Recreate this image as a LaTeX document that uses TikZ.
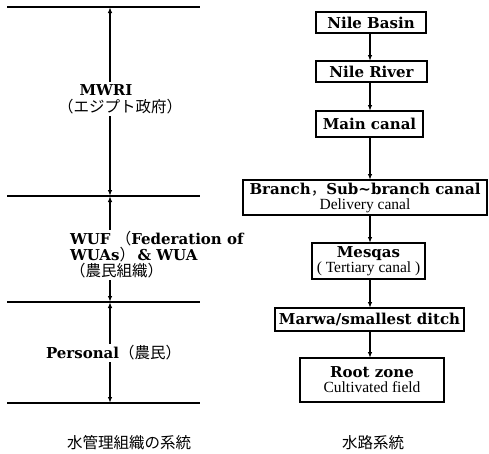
\documentclass[tikz,border=0pt]{standalone}
\usepackage{fontspec}
\newfontfamily\jp{Noto Sans CJK JP}
\newfontfamily\tms{Liberation Serif}
\newfontfamily\dvs{DejaVu Serif}
\usetikzlibrary{arrows.meta}
\newcommand\bigbf{\fontsize{15}{17}\selectfont\dvs\bfseries}
\newcommand\regtx{\fontsize{15.5}{17}\selectfont\tms\mdseries}
\newcommand\jpt{\fontsize{15.5}{17}\selectfont\jp\mdseries}
\begin{document}
\begin{tikzpicture}[x=1pt,y=-1pt,
  every node/.style={inner sep=0pt, outer sep=0pt},
  box/.style={draw, line width=1.3pt, align=center, font=\bigbf},
  arr/.style={line width=1.3pt, -{Latex[length=6pt,width=4.5pt]}},
  dar/.style={line width=1.3pt, {Latex[length=6pt,width=4.5pt]}-{Latex[length=6pt,width=4.5pt]}},
  lvl/.style={line width=1.4pt},
  lab/.style={fill=white, inner sep=2pt, font=\bigbf}]
\useasboundingbox (0,0) rectangle (489,453);
% left levels
\coordinate (h1a) at (7,7);   \coordinate (h1b) at (200,7);
\coordinate (h2a) at (7,196); \coordinate (h2b) at (200,196);
\coordinate (h3a) at (7,302); \coordinate (h3b) at (200,302);
\coordinate (h4a) at (7,403); \coordinate (h4b) at (200,403);
\draw[lvl] (h1a) -- (h1b);
\draw[lvl] (h2a) -- (h2b);
\draw[lvl] (h3a) -- (h3b);
\draw[lvl] (h4a) -- (h4b);
\coordinate (v1) at (110,7);
\coordinate (v2) at (110,196);
\coordinate (v3) at (110,302);
\coordinate (v4) at (110,403);
\draw[dar] (v1) -- (v2);
\draw[dar] (v2) -- (v3);
\draw[dar] (v3) -- (v4);
\node[lab, align=center] (mwri) at (120,99) {\hspace*{-28pt}MWRI\\[0pt]{\jpt （エジプト政府）}};
\node[lab, align=left, anchor=west] (wuf) at (68,255) {WUF {\jpt （}Federation of\\[-1pt]WUAs{\jpt ）}\,\& WUA\\[-1pt]{\jpt （農民組織）}};
\node[lab, anchor=west] (pers) at (44,353) {Personal{\jpt （農民）}};
% right column
\coordinate (ax) at (370,0);
\node[box, minimum width=110pt, minimum height=21pt] (nb) at (371,22.5) {Nile Basin};
\node[box, minimum width=111pt, minimum height=21pt] (nr) at (371.5,71.5) {Nile River};
\node[box, minimum width=107pt, minimum height=26pt] (mc) at (369.5,124) {Main canal};
\node[box, minimum width=244pt, minimum height=35pt] (br) at (365,197.5) {Branch{\jpt ，}Sub\textasciitilde branch canal\\[-2pt]{\regtx Delivery canal}};
\node[box, minimum width=113pt, minimum height=36pt] (me) at (368.5,261) {Mesqas\\[-2pt]{\regtx ( Tertiary canal )}};
\node[box, minimum width=189pt, minimum height=23pt] (mw) at (369.5,319.5) {Marwa/smallest ditch};
\node[box, minimum width=144pt, minimum height=44pt] (rz) at (372,380) {Root zone\\[-2pt]{\regtx Cultivated field}};
\draw[arr] (nb.south -| ax) -- (nr.north -| ax);
\draw[arr] (nr.south -| ax) -- (mc.north -| ax);
\draw[arr] (mc.south -| ax) -- (br.north -| ax);
\draw[arr] (br.south -| ax) -- (me.north -| ax);
\draw[arr] (me.south -| ax) -- (mw.north -| ax);
\draw[arr] (mw.south -| ax) -- (rz.north -| ax);
% captions
\node[font=\jpt] (cap1) at (129,443) {水管理組織の系統};
\node[font=\jpt] (cap2) at (373,443) {水路系統};
\end{tikzpicture}
\end{document}
